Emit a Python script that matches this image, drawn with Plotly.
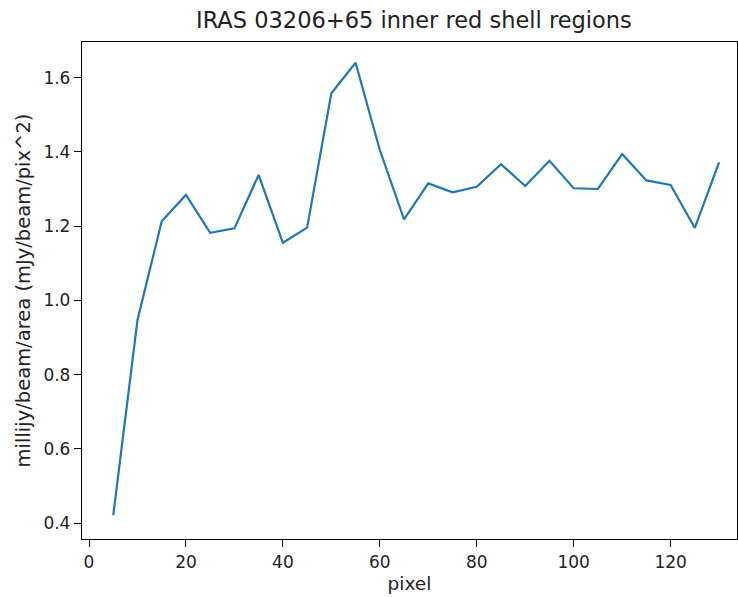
import plotly.graph_objects as go

pixel = [5, 10, 15, 20, 25, 30, 35, 40, 45, 50, 55, 60, 65, 70, 75, 80, 85, 90, 95, 100, 105, 110, 115, 120, 125, 130]
flux = [0.421, 0.947, 1.213, 1.284, 1.182, 1.194, 1.338, 1.155, 1.196, 1.558, 1.640, 1.405, 1.218, 1.315, 1.291, 1.306, 1.367, 1.308, 1.376, 1.302, 1.300, 1.394, 1.323, 1.311, 1.195, 1.372]
xticks = [0, 20, 40, 60, 80, 100, 120]
yticks = [0.4, 0.6, 0.8, 1.0, 1.2, 1.4, 1.6]

fig = go.Figure()
fig.add_trace(go.Scatter(x=pixel, y=flux, mode="lines",
                         line=dict(color="#1f77b4", width=2.2), showlegend=False))

axis_common = dict(showline=True, mirror=True, linecolor="black", linewidth=1.3,
                   ticks="outside", ticklen=7, tickwidth=1.2, tickcolor="black",
                   showgrid=False, zeroline=False,
                   tickfont=dict(family="DejaVu Sans", size=17, color="#222"))

fig.update_layout(
    width=738, height=597,
    margin=dict(l=82, r=1, t=42, b=58),
    paper_bgcolor="white", plot_bgcolor="white",
    title=dict(text="IRAS 03206+65 inner red shell regions",
               font=dict(family="DejaVu Sans", size=22.5, color="#222"),
               x=(82 + 737) / 2 / 738 + 0.006, xanchor="center", xref="container",
               y=1 - 20 / 597, yanchor="middle", yref="container"),
    xaxis=dict(range=[-1.45, 133.7], tickvals=xticks, ticktext=[str(v) for v in xticks],
               title=dict(text="pixel", font=dict(family="DejaVu Sans", size=18.5, color="#222"), standoff=6),
               **axis_common),
    yaxis=dict(range=[0.357, 1.696], tickvals=yticks, ticktext=[f"{v:.1f}" for v in yticks],
               title=dict(text="millijy/beam/area (mJy/beam/pix^2)", font=dict(family="DejaVu Sans", size=19.5, color="#222"), standoff=7),
               **axis_common),
)

fig.write_html("out.html")
